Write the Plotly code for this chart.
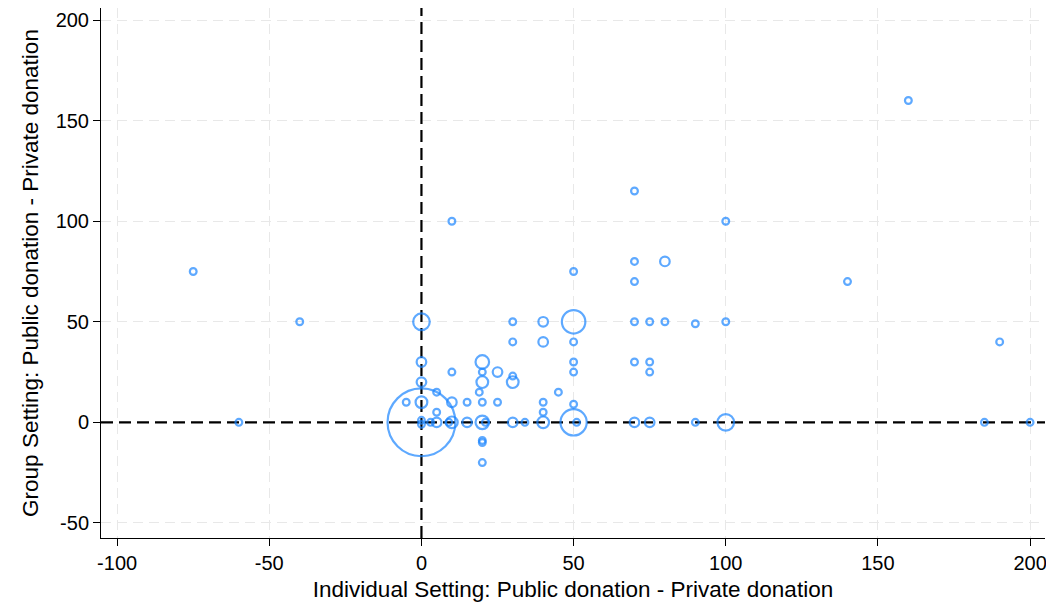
import plotly.graph_objects as go

# individual setting difference (x), group setting difference (y), number of subjects (n)
indiv_diff = [-75, -60, -40, 10, 70, 100, 160, 140, 190, 185, 200, 50,
              0, 0, 0, 0, 0, 0, 0, -5,
              3, 5, 5, 5, 9, 10, 10, 10, 15, 15,
              19, 20, 21, 20, 20, 20, 20, 20, 20, 20,
              25, 25, 30, 30, 30, 30, 30, 34,
              40, 40, 40, 40, 40, 45,
              50, 51, 50, 50, 50, 50, 50,
              70, 70, 70, 70, 70, 75, 75, 75, 75,
              80, 80, 90, 90, 100, 100]
group_diff = [75, 0, 50, 100, 115, 100, 160, 70, 40, 0, 0, 75,
              0, 1, -1, 10, 20, 30, 50, 10,
              0, 0, 5, 15, 0, 0, 10, 25, 0, 10,
              15, 0, 0, -9, -10, -20, 10, 20, 25, 30,
              10, 25, 0, 20, 23, 40, 50, 0,
              0, 5, 10, 40, 50, 15,
              0, 0, 9, 25, 30, 40, 50,
              0, 30, 50, 70, 80, 0, 25, 30, 50,
              50, 80, 0, 49, 0, 50]
n_obs = [1, 1, 1, 1, 1, 1, 1, 1, 1, 1, 1, 1,
         100, 1, 1, 3, 2, 2, 6, 1,
         1, 2, 1, 1, 1, 3, 2, 1, 2, 1,
         1, 4, 1, 1, 1, 1, 1, 3, 1, 4,
         1, 2, 2, 3, 1, 1, 1, 1,
         3, 1, 1, 2, 2, 1,
         15, 1, 1, 1, 1, 1, 12,
         2, 1, 1, 1, 1, 2, 1, 1, 1,
         1, 2, 1, 1, 6, 1]

x_ticks = [-100, -50, 0, 50, 100, 150, 200]
y_ticks = [-50, 0, 50, 100, 150, 200]
x_range = [-105.3, 204.9]
y_range = [-57.5, 206]

blue = "#1a85ff"
font = "Liberation Sans, Arial, sans-serif"

fig = go.Figure()

# reference lines at zero (white underlay hides the grid line under the gaps)
for col, dash in (("white", "solid"), ("black", "12px,6px")):
    fig.add_trace(go.Scatter(x=[0, 0], y=y_range, mode="lines",
                             line=dict(color=col, width=2.2, dash=dash),
                             showlegend=False, hoverinfo="skip"))
    fig.add_trace(go.Scatter(x=x_range, y=[0, 0], mode="lines",
                             line=dict(color=col, width=2.2, dash=dash),
                             showlegend=False, hoverinfo="skip"))

# marker area proportional to the number of subjects
fig.add_trace(go.Scatter(
    x=indiv_diff, y=group_diff, mode="markers",
    marker=dict(symbol="circle-open", size=n_obs, sizemode="area", sizeref=2 / 46.0,
                color=blue, line=dict(width=2.2, color=blue)),
    showlegend=False, hoverinfo="x+y"))

axis_common = dict(
    showline=True, linecolor="black", linewidth=1, mirror=False,
    ticks="outside", ticklen=7, tickcolor="black", tickwidth=1,
    showgrid=True, gridcolor="#e8e8e8", gridwidth=1.4, griddash="10px,6px",
    zeroline=False, automargin=False,
    tickfont=dict(size=20, color="black", family=font),
)

fig.update_xaxes(range=x_range, tickvals=x_ticks,
                 ticktext=[str(v) for v in x_ticks],
                 title=dict(text="Individual Setting: Public donation - Private donation",
                            font=dict(size=22.5, color="black", family=font), standoff=8),
                 **axis_common)
fig.update_yaxes(range=y_range, tickvals=y_ticks,
                 ticktext=[str(v) for v in y_ticks],
                 title=dict(text="Group Setting: Public donation - Private donation",
                            font=dict(size=22.5, color="black", family=font), standoff=10),
                 **axis_common)

# page body adds an 8px offset, so the figure is sized to the remaining area
fig.update_layout(
    width=1046, height=599,
    margin=dict(l=93, r=9, t=0, b=69),
    plot_bgcolor="white", paper_bgcolor="white",
    font=dict(family=font, color="black"),
)

fig.write_html("out.html")
